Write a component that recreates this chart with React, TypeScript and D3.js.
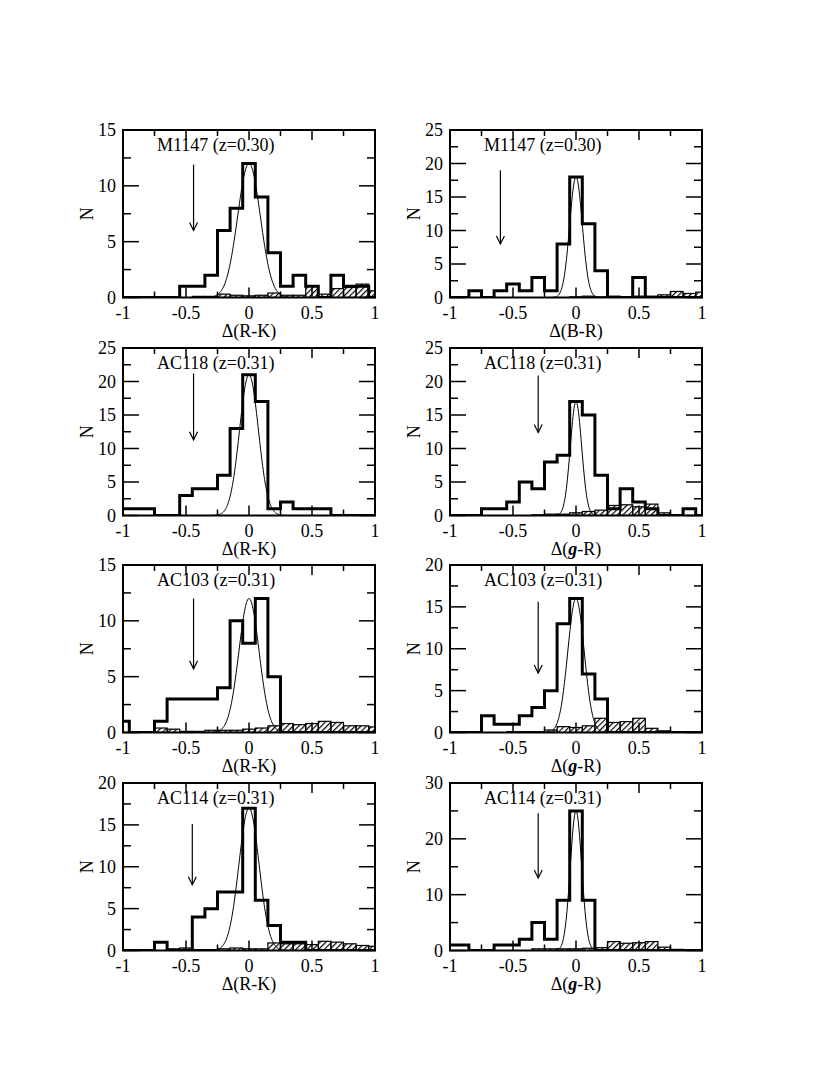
import React from 'react';
import * as d3 from 'd3';

// ---------- data ----------
const binCenters = [-1.0, -0.9, -0.8, -0.7, -0.6, -0.5, -0.4, -0.3, -0.2, -0.1, 0.0, 0.1, 0.2, 0.3, 0.4, 0.5, 0.6, 0.7, 0.8, 0.9, 1.0];
const binWidth = 0.1;

const clusterLabels = ['M1147 (z=0.30)', 'M1147 (z=0.30)', 'AC118 (z=0.31)', 'AC118 (z=0.31)', 'AC103 (z=0.31)', 'AC103 (z=0.31)', 'AC114 (z=0.31)', 'AC114 (z=0.31)'];
const colourNames = ['R-K', 'B-R', 'R-K', 'g-R', 'R-K', 'g-R', 'R-K', 'g-R'];
const yMaxes = [15, 25, 25, 25, 15, 20, 20, 30];
const yMajorSteps = [5, 5, 5, 5, 5, 5, 5, 10];
const xTickValues = [-1, -0.75, -0.5, -0.25, 0, 0.25, 0.5, 0.75, 1];
const xTickLabels = ['-1', '-0.5', '0', '0.5', '1'];
const xLabelValues = [-1, -0.5, 0, 0.5, 1];

// cluster member counts (thick step histogram)
const countsM1147RK = [0, 0, 0, 0, 0, 1, 1, 2, 6, 8, 12, 9, 4, 1, 2, 1, 0, 2, 1, 1, 0];
const countsM1147BR = [0, 0, 1, 0, 1, 2, 1, 3, 1, 8, 18, 11, 4, 0, 0, 3, 0, 0, 0, 0, 0];
const countsAC118RK = [1, 1, 1, 0, 0, 3, 4, 4, 6, 13, 21, 17, 1, 2, 1, 1, 1, 0, 0, 0, 0];
const countsAC118gR = [0, 0, 0, 1, 1, 2, 5, 4, 8, 9, 17, 15, 6, 1, 4, 2, 1, 0, 0, 1, 0];
const countsAC103RK = [1, 0, 0, 1, 3, 3, 3, 3, 4, 10, 8, 12, 5, 0, 0, 0, 0, 0, 0, 0, 0];
const countsAC103gR = [0, 0, 0, 2, 1, 1, 2, 3, 5, 13, 16, 7, 4, 0, 0, 0, 0, 0, 0, 0, 0];
const countsAC114RK = [0, 0, 0, 1, 0, 0, 4, 5, 7, 7, 17, 6, 3, 1, 1, 0, 0, 0, 0, 0, 0];
const countsAC114gR = [1, 1, 0, 0, 1, 1, 2, 5, 2, 9, 25, 9, 0, 0, 0, 0, 0, 0, 0, 0, 0];

// field contamination (hatched histogram)
const fieldM1147RK = [0, 0, 0, 0, 0, 0, 0.1, 0.1, 0.3, 0.2, 0.15, 0.2, 0.4, 0.2, 0.2, 1.0, 0.3, 0.8, 0.9, 1.2, 0.6];
const fieldM1147BR = [0, 0, 0, 0, 0, 0, 0, 0, 0, 0, 0.1, 0.2, 0.1, 0.2, 0.1, 0.2, 0.2, 0.4, 0.9, 0.6, 0.8];
const fieldAC118RK = [0, 0, 0, 0, 0, 0, 0, 0, 0, 0, 0, 0, 0, 0, 0, 0, 0, 0, 0, 0, 0];
const fieldAC118gR = [0, 0, 0, 0, 0, 0, 0, 0.1, 0.2, 0.2, 0.4, 0.6, 0.8, 1.5, 1.6, 1.3, 1.7, 0.4, 0.1, 0, 0];
const fieldAC103RK = [0, 0, 0, 0.4, 0.3, 0.1, 0.1, 0.2, 0.2, 0.2, 0.3, 0.4, 0.6, 0.8, 0.7, 0.8, 1.0, 0.9, 0.6, 0.6, 0.5];
const fieldAC103gR = [0, 0, 0, 0, 0, 0.1, 0.1, 0.1, 0.3, 0.7, 0.6, 0.8, 1.7, 1.2, 1.3, 1.7, 0.5, 0.2, 0.1, 0, 0];
const fieldAC114RK = [0, 0, 0, 0, 0.2, 0.3, 0.1, 0.1, 0.2, 0.3, 0.2, 0.2, 0.9, 0.8, 0.8, 0.7, 1.1, 1.0, 0.8, 0.6, 0.5];
const fieldAC114gR = [0, 0, 0, 0, 0, 0, 0, 0.3, 0.3, 0.3, 0.3, 0.4, 0.5, 1.6, 1.3, 1.4, 1.6, 0.6, 0.2, 0, 0];

const mainCounts = [countsM1147RK, countsM1147BR, countsAC118RK, countsAC118gR, countsAC103RK, countsAC103gR, countsAC114RK, countsAC114gR];
const fieldCounts = [fieldM1147RK, fieldM1147BR, fieldAC118RK, fieldAC118gR, fieldAC103RK, fieldAC103gR, fieldAC114RK, fieldAC114gR];

// Gaussian fit parameters
const gaussAmp = [12, 18, 21, 17, 12, 16, 17, 25];
const gaussSigma = [0.09, 0.05, 0.075, 0.045, 0.08, 0.065, 0.08, 0.045];

// arrows (x position, top and tip in N)
const arrowX = [-0.44, -0.6, -0.44, -0.3, -0.44, -0.3, -0.45, -0.3];
const arrowTop = [11.9, 19.0, 21.2, 20.9, 12.0, 15.6, 15.1, 24.6];
const arrowTip = [6.0, 8.0, 11.3, 12.4, 5.7, 7.1, 7.85, 13.0];

// ---------- layout ----------
const W = 830;
const H = 1075;
const colLeft = [123, 450];
const panelW = 252;
const rowTop = [130, 348, 565, 783];
const panelH = 167.5;
const FONT = '"Liberation Serif", "Times New Roman", serif';

function XTitle({ name, x, y }: { name: string; x: number; y: number }) {
  if (name.startsWith('g')) {
    return (
      <text x={x} y={y} textAnchor="middle" fontFamily={FONT} fontSize={18}>
        Δ(<tspan fontWeight="bold" fontStyle="italic">g</tspan>{name.slice(1)})
      </text>
    );
  }
  return (
    <text x={x} y={y} textAnchor="middle" fontFamily={FONT} fontSize={18}>
      {`Δ(${name})`}
    </text>
  );
}

function Panel({ i }: { i: number }) {
  const col = i % 2;
  const row = Math.floor(i / 2);
  const left = colLeft[col];
  const top = rowTop[row];
  const x = d3.scaleLinear().domain([-1, 1]).range([left, left + panelW]);
  const y = d3.scaleLinear().domain([0, yMaxes[i]]).range([top + panelH, top]);

  const stepPts: [number, number][] = [];
  binCenters.forEach((c, k) => {
    const x0 = Math.max(-1, c - binWidth / 2);
    const x1 = Math.min(1, c + binWidth / 2);
    stepPts.push([x0, mainCounts[i][k]], [x1, mainCounts[i][k]]);
  });
  const line = d3.line<[number, number]>().x((d) => x(d[0])).y((d) => y(d[1]));

  const gx = d3.range(-1, 1.0001, 0.004);
  const gPts: [number, number][] = gx.map((v) => [v, gaussAmp[i] * Math.exp(-(v * v) / (2 * gaussSigma[i] * gaussSigma[i]))]);
  const gLine = d3.line<[number, number]>().x((d) => x(d[0])).y((d) => y(d[1])).curve(d3.curveLinear);

  const yMinorStep = yMajorSteps[i] / 2;
  const yTicks = d3.range(0, yMaxes[i] + 0.001, yMinorStep);
  const yLabels = d3.range(0, yMaxes[i] + 0.001, yMajorSteps[i]);
  const bottom = top + panelH;
  const right = left + panelW;

  const ax = x(arrowX[i]);
  const at = y(arrowTop[i]);
  const ab = y(arrowTip[i]);

  return (
    <g>
      <defs>
        <clipPath id={`clip${i}`}>
          <rect x={left} y={top} width={panelW} height={panelH} />
        </clipPath>
      </defs>
      <g clipPath={`url(#clip${i})`}>
        {binCenters.map((c, k) => {
          const v = fieldCounts[i][k];
          if (v <= 0) return null;
          const x0 = Math.max(-1, c - binWidth / 2);
          const x1 = Math.min(1, c + binWidth / 2);
          return (
            <rect key={k} x={x(x0)} y={y(v)} width={x(x1) - x(x0)} height={y(0) - y(v)}
              fill="url(#hatch)" stroke="#000" strokeWidth={1.2} />
          );
        })}
        <path d={gLine(gPts) || ''} fill="none" stroke="#000" strokeWidth={1} />
        <path d={line(stepPts) || ''} fill="none" stroke="#000" strokeWidth={3} strokeLinejoin="miter" />
      </g>
      {/* frame */}
      <rect x={left} y={top} width={panelW} height={panelH} fill="none" stroke="#000" strokeWidth={2} />
      {/* x ticks */}
      {xTickValues.map((v, k) => {
        const major = k % 2 === 0;
        const len = major ? 10 : 6;
        return (
          <g key={`xt${k}`}>
            <line x1={x(v)} x2={x(v)} y1={bottom} y2={bottom - len} stroke="#000" strokeWidth={1.5} />
            <line x1={x(v)} x2={x(v)} y1={top} y2={top + len} stroke="#000" strokeWidth={1.5} />
          </g>
        );
      })}
      {/* y ticks */}
      {yTicks.map((v, k) => {
        const major = k % 2 === 0;
        const len = major ? 16 : 8;
        return (
          <g key={`yt${k}`}>
            <line x1={left} x2={left + len} y1={y(v)} y2={y(v)} stroke="#000" strokeWidth={1.5} />
            <line x1={right} x2={right - len} y1={y(v)} y2={y(v)} stroke="#000" strokeWidth={1.5} />
          </g>
        );
      })}
      {xLabelValues.map((v, k) => (
        <text key={`xl${k}`} x={x(v)} y={bottom + 21} textAnchor="middle" fontFamily={FONT} fontSize={18}>
          {xTickLabels[k]}
        </text>
      ))}
      {yLabels.map((v, k) => (
        <text key={`yl${k}`} x={left - 7} y={y(v) + 6} textAnchor="end" fontFamily={FONT} fontSize={18}>
          {String(v)}
        </text>
      ))}
      <XTitle name={colourNames[i]} x={(left + right) / 2} y={bottom + 39} />
      <text transform={`translate(${left - 30},${top + panelH / 2}) rotate(-90)`} textAnchor="middle"
        fontFamily={FONT} fontSize={18}>N</text>
      <text x={left + 34} y={top + 21} fontFamily={FONT} fontSize={18}>{clusterLabels[i]}</text>
      {/* arrow */}
      <line x1={ax} x2={ax} y1={at} y2={ab} stroke="#000" strokeWidth={1.2} />
      <path d={`M${ax - 4},${ab - 8} L${ax},${ab} L${ax + 4},${ab - 8}`} fill="none" stroke="#000" strokeWidth={1.2} />
    </g>
  );
}

export default function App() {
  return (
    <svg width={W} height={H} viewBox={`0 0 ${W} ${H}`}
      style={{ position: 'absolute', left: 0, top: 0, background: '#fff' }}>
      <defs>
        <pattern id="hatch" patternUnits="userSpaceOnUse" width={4} height={4} patternTransform="rotate(45)">
          <line x1={0} y1={0} x2={0} y2={4} stroke="#000" strokeWidth={2.4} />
        </pattern>
      </defs>
      <rect x={0} y={0} width={W} height={H} fill="#fff" />
      {mainCounts.map((_, i) => (
        <Panel key={i} i={i} />
      ))}
    </svg>
  );
}
